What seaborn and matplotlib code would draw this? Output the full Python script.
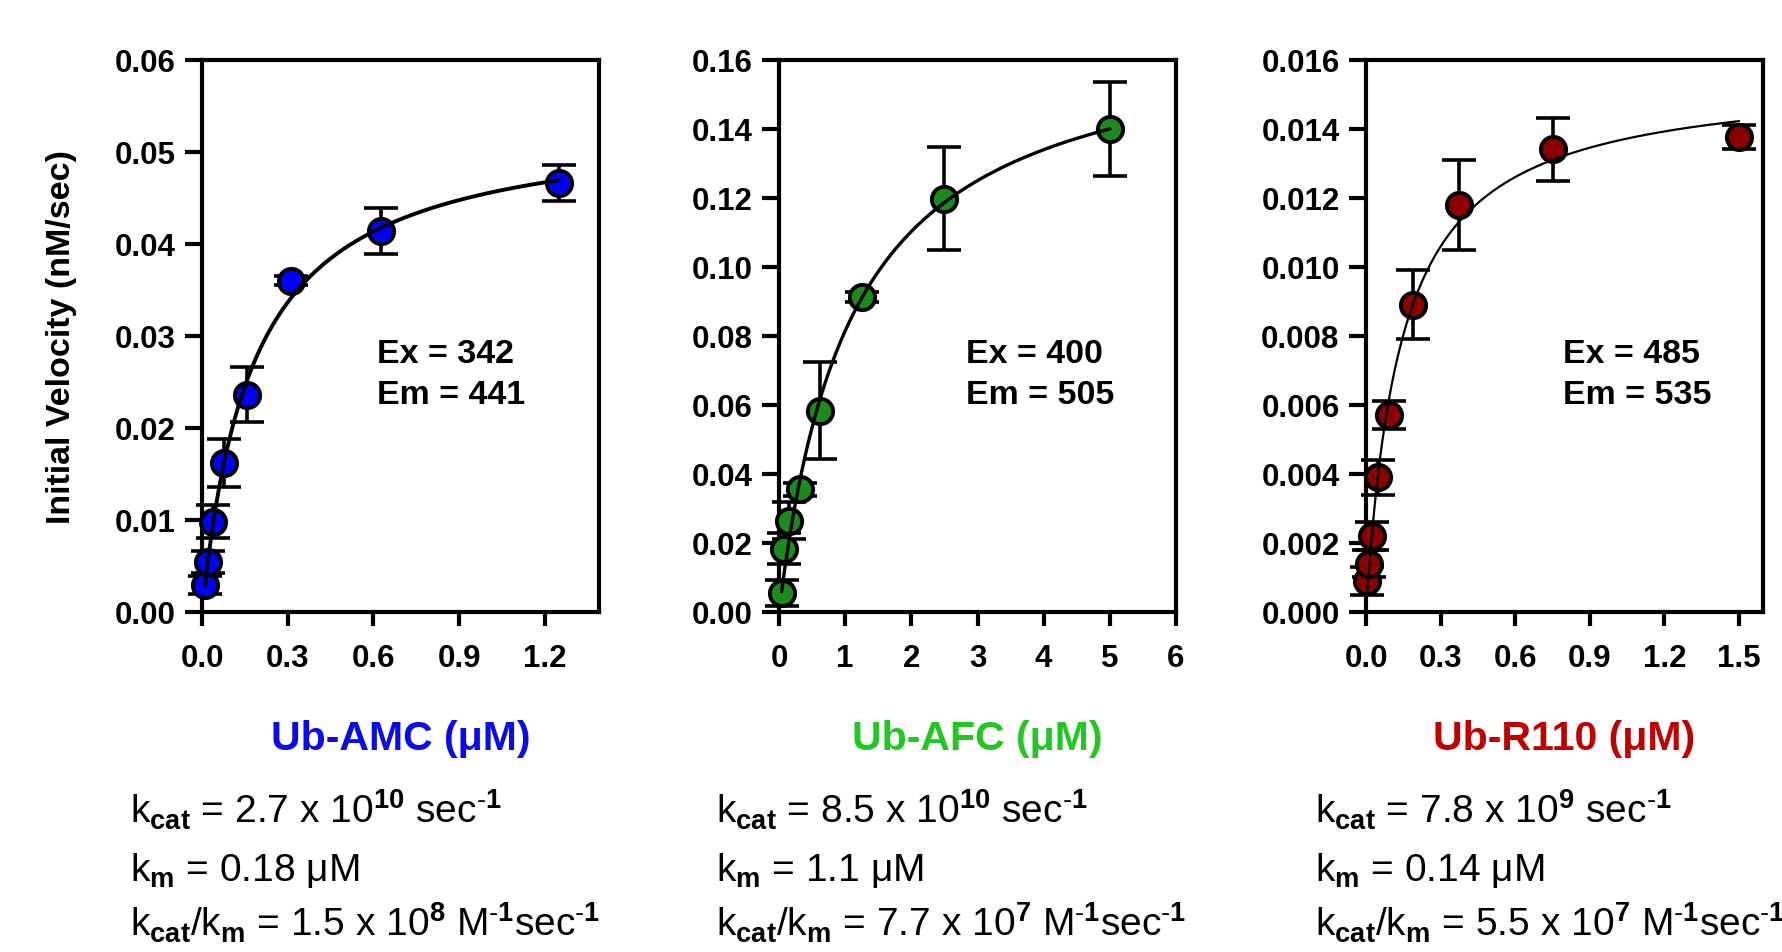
import matplotlib
matplotlib.use("Agg")
import matplotlib.pyplot as plt
import numpy as np
import seaborn as sns

# substrate concentrations (uM), initial velocities (nM/sec) and SD
amc_conc = [0.0098, 0.0195, 0.039, 0.078, 0.156, 0.3125, 0.625, 1.25]
amc_rate = [0.0029, 0.0054, 0.0098, 0.0162, 0.0236, 0.0360, 0.0414, 0.0466]
amc_err = [0.0010, 0.0012, 0.0018, 0.0026, 0.0030, 0.0005, 0.0025, 0.0020]

afc_conc = [0.039, 0.078, 0.156, 0.3125, 0.625, 1.25, 2.5, 5.0]
afc_rate = [0.0055, 0.0183, 0.0265, 0.0355, 0.0583, 0.0912, 0.1197, 0.1398]
afc_err = [0.0038, 0.0045, 0.0055, 0.0018, 0.0140, 0.0015, 0.0149, 0.0136]

r110_conc = [0.0059, 0.0117, 0.0234, 0.047, 0.094, 0.1875, 0.375, 0.75, 1.5]
r110_rate = [0.0009, 0.0014, 0.0022, 0.0039, 0.0057, 0.0089, 0.0118, 0.0134, 0.01375]
r110_err = [0.0004, 0.0004, 0.0004, 0.0005, 0.0004, 0.0010, 0.0013, 0.0009, 0.00035]

substrates = ["Ub-AMC", "Ub-AFC", "Ub-R110"]
ex_nm = [342, 400, 485]
em_nm = [441, 505, 535]
kcat_mant = ["2.7", "8.5", "7.8"]
kcat_exp = ["10", "10", "9"]
km_um = ["0.18", "1.1", "0.14"]
ratio_mant = ["1.5", "7.7", "5.5"]
ratio_exp = ["8", "7", "7"]

marker_colors = ["#0000ff", "#1b8c1b", "#8b0000"]
label_colors = ["#0a0aee", "#22c822", "#c00000"]
curve_widths = [2.8, 2.4, 1.6]

x_limits = [(0, 1.39), (0, 6), (0, 1.596)]
x_ticks = [np.arange(0, 1.21, 0.3), np.arange(0, 6.1, 1), np.arange(0, 1.51, 0.3)]
x_fmt = ["{:.1f}", "{:.0f}", "{:.1f}"]
y_limits = [(0, 0.06), (0, 0.16), (0, 0.016)]
y_step = [0.01, 0.02, 0.002]
y_fmt = ["{:.2f}", "{:.2f}", "{:.3f}"]


def fit_michaelis_menten(conc, rate):
    """Least-squares Michaelis-Menten fit (grid over Km, Vmax solved)."""
    x = np.asarray(conc)
    y = np.asarray(rate)
    best = None
    for km in np.logspace(-3, 1.5, 4000):
        f = x / (km + x)
        vmax = f @ y / (f @ f)
        sse = np.sum((y - vmax * f) ** 2)
        if best is None or sse < best[0]:
            best = (sse, vmax, km)
    return best[1], best[2]


sns.set_style("white")
plt.rcParams["font.family"] = ["Liberation Sans", "DejaVu Sans"]
plt.rcParams["mathtext.fontset"] = "custom"
plt.rcParams["mathtext.rm"] = "Liberation Sans"
plt.rcParams["mathtext.bf"] = "Liberation Sans:bold"
plt.rcParams["mathtext.it"] = "Liberation Sans:italic"
for key in ["text.color", "axes.labelcolor", "xtick.color", "ytick.color"]:
    plt.rcParams[key] = "black"

fig = plt.figure(figsize=(17.82, 9.53), dpi=100)

datasets = [
    (amc_conc, amc_rate, amc_err),
    (afc_conc, afc_rate, afc_err),
    (r110_conc, r110_rate, r110_err),
]
lefts = [202 / 1782, 779 / 1782, 1366 / 1782]
text_x = [130 / 1782, 716 / 1782, 1315 / 1782]

for i, (conc, rate, err) in enumerate(datasets):
    ax = fig.add_axes([lefts[i], 0.3568, 397 / 1782, 0.5795])

    ax.errorbar(conc, rate, yerr=err, fmt="none", ecolor="black",
                elinewidth=2.6, capsize=12, capthick=2.6, zorder=2, clip_on=False)
    sns.scatterplot(x=conc, y=rate, s=330, color=marker_colors[i],
                    edgecolor="black", linewidth=2.8, ax=ax, zorder=3,
                    legend=False, clip_on=False)

    vmax, km = fit_michaelis_menten(conc, rate)
    x_fit = np.linspace(min(conc), max(conc), 300)
    sns.lineplot(x=x_fit, y=vmax * x_fit / (km + x_fit), color="black",
                 linewidth=curve_widths[i], ax=ax, zorder=4)

    ax.set_xlim(*x_limits[i])
    ax.set_ylim(*y_limits[i])
    ax.set_xticks(x_ticks[i])
    ax.set_xticklabels([x_fmt[i].format(v) for v in x_ticks[i]])
    y_ticks = np.arange(0, y_limits[i][1] + y_step[i] / 2, y_step[i])
    ax.set_yticks(y_ticks)
    ax.set_yticklabels([y_fmt[i].format(v) for v in y_ticks])
    for label in ax.get_xticklabels() + ax.get_yticklabels():
        label.set_fontweight("bold")
        label.set_fontsize(22.5)
    ax.tick_params(axis="y", direction="out", length=12, width=3, pad=7, left=True)
    ax.tick_params(axis="x", direction="out", length=10, width=3, pad=12, bottom=True)
    for spine in ax.spines.values():
        spine.set_visible(True)
        spine.set_linewidth(3)
        spine.set_color("black")

    ax.set_xlabel(f"{substrates[i]} (μM)", fontsize=29.5, fontweight="bold",
                  color=label_colors[i])
    ax.xaxis.set_label_coords(0.5, -0.193)
    if i == 0:
        ax.set_ylabel("Initial Velocity (nM/sec)", fontsize=24.5, fontweight="bold")
        ax.yaxis.set_label_coords(-0.315, 0.5)
    else:
        ax.set_ylabel("")

    text_left = [0.44, 0.471, 0.497][i]
    ax.text(text_left, 0.468, f"Ex = {ex_nm[i]}", transform=ax.transAxes,
            fontsize=24.5, fontweight="bold", va="center", ha="left")
    ax.text(text_left, 0.394, f"Em = {em_nm[i]}", transform=ax.transAxes,
            fontsize=24.5, fontweight="bold", va="center", ha="left")

    minus_one = r"$^{\text{-}\mathbf{1}}$"
    lines = [
        rf"k$_{{\mathbf{{cat}}}}$ = {kcat_mant[i]} x 10$^{{\mathbf{{{kcat_exp[i]}}}}}$ sec" + minus_one,
        rf"k$_{{\mathbf{{m}}}}$ = {km_um[i]} μM",
        rf"k$_{{\mathbf{{cat}}}}$/k$_{{\mathbf{{m}}}}$ = {ratio_mant[i]} x 10$^{{\mathbf{{{ratio_exp[i]}}}}}$ M"
        + minus_one + "sec" + minus_one,
    ]
    for y_pos, line in zip([0.1355, 0.076, 0.0175], lines):
        fig.text(text_x[i], y_pos, line, fontsize=28, va="baseline", ha="left")

fig.savefig("out.png", dpi=100)
